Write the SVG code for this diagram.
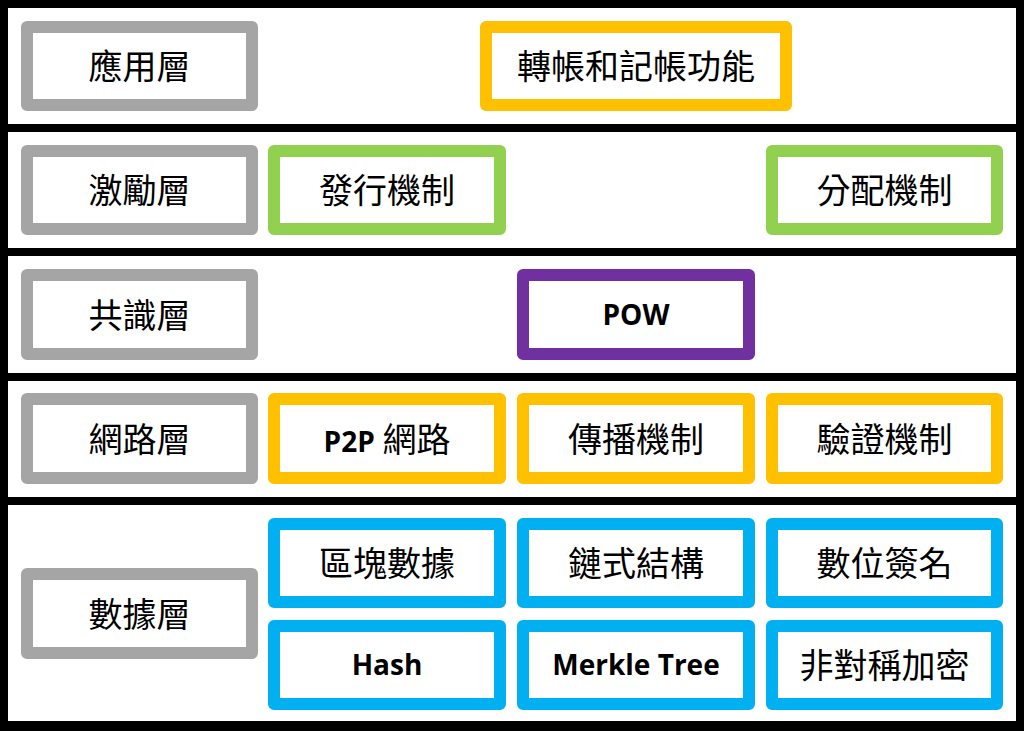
<svg xmlns="http://www.w3.org/2000/svg" width="1024" height="731" viewBox="0 0 1024 731">
<style>
.box{fill:#fff;stroke-width:12;stroke-linejoin:round}
.gray{stroke:#A5A5A5}.orange{stroke:#FFC000}.green{stroke:#92D050}.purple{stroke:#7030A0}.blue{stroke:#00B0F0}
.cjk{font-family:"Noto Sans CJK TC","Noto Sans CJK SC",sans-serif;font-size:34px;fill:#000;text-anchor:middle}
.lat{font-family:"Open Sans","Noto Sans",sans-serif;font-weight:bold;font-size:28px;fill:#000;text-anchor:middle}
.panel{fill:#fff}
</style>
<rect x="0" y="0" width="1024" height="731" fill="#000"/>
<g id="panels">
<rect class="panel" x="8" y="8" width="1008" height="116"/>
<rect class="panel" x="8" y="132" width="1008" height="116"/>
<rect class="panel" x="8" y="256" width="1008" height="117"/>
<rect class="panel" x="8" y="381" width="1008" height="116"/>
<rect class="panel" x="8" y="505" width="1008" height="216"/>
</g>
<g id="app-layer"><rect class="box gray" x="27" y="27" width="225" height="78"/><text class="cjk" x="139.5" y="79">應用層</text></g>
<g id="transfer"><rect class="box orange" x="486" y="27" width="300" height="78"/><text class="cjk" x="636" y="79">轉帳和記帳功能</text></g>
<g id="incentive-layer"><rect class="box gray" x="27" y="151" width="225" height="78"/><text class="cjk" x="139.5" y="203">激勵層</text></g>
<g id="issuance"><rect class="box green" x="274" y="151" width="226" height="78"/><text class="cjk" x="387" y="203">發行機制</text></g>
<g id="distribution"><rect class="box green" x="772" y="151" width="225" height="78"/><text class="cjk" x="884.5" y="203">分配機制</text></g>
<g id="consensus-layer"><rect class="box gray" x="27" y="275" width="225" height="79"/><text class="cjk" x="139.5" y="327.5">共識層</text></g>
<g id="pow"><rect class="box purple" x="523" y="275" width="226" height="79"/><text class="lat" x="636" y="324.5">POW</text></g>
<g id="network-layer"><rect class="box gray" x="27" y="399" width="225" height="79"/><text class="cjk" x="139.5" y="451.5">網路層</text></g>
<g id="p2p"><rect class="box orange" x="274" y="399" width="226" height="79"/><text class="cjk" x="387" y="451.5"><tspan class="lat" style="font-size:28px">P2P</tspan> 網路</text></g>
<g id="propagation"><rect class="box orange" x="523" y="399" width="226" height="79"/><text class="cjk" x="636" y="451.5">傳播機制</text></g>
<g id="verification"><rect class="box orange" x="772" y="399" width="225" height="79"/><text class="cjk" x="884.5" y="451.5">驗證機制</text></g>
<g id="data-layer"><rect class="box gray" x="27" y="574" width="225" height="79"/><text class="cjk" x="139.5" y="626.5">數據層</text></g>
<g id="block-data"><rect class="box blue" x="274" y="524" width="226" height="78"/><text class="cjk" x="387" y="576">區塊數據</text></g>
<g id="chain"><rect class="box blue" x="523" y="524" width="226" height="78"/><text class="cjk" x="636" y="576">鏈式結構</text></g>
<g id="signature"><rect class="box blue" x="772" y="524" width="225" height="78"/><text class="cjk" x="884.5" y="576">數位簽名</text></g>
<g id="hash"><rect class="box blue" x="274" y="626" width="226" height="78"/><text class="lat" x="387" y="675">Hash</text></g>
<g id="merkle"><rect class="box blue" x="523" y="626" width="226" height="78"/><text class="lat" x="636" y="675">Merkle Tree</text></g>
<g id="asymmetric"><rect class="box blue" x="772" y="626" width="225" height="78"/><text class="cjk" x="884.5" y="678">非對稱加密</text></g>
</svg>
